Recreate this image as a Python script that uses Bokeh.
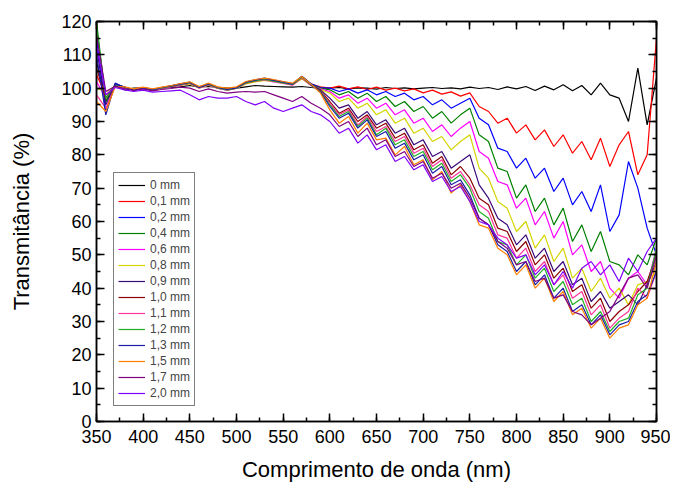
from bokeh.plotting import figure
from bokeh.models import (LinearAxis, Range1d, Legend, LegendItem,
                          CustomJSTickFormatter, SingleIntervalTicker)
from bokeh.embed import file_html
from bokeh.resources import INLINE

# wavelength grid (nm)
wavelength = list(range(350, 951, 10))

labels = ["0 mm", "0,1 mm", "0,2 mm", "0,4 mm", "0,6 mm", "0,8 mm", "0,9 mm",
          "1,0 mm", "1,1 mm", "1,2 mm", "1,3 mm", "1,5 mm", "1,7 mm", "2,0 mm"]

colors = ["#000000", "#ff0000", "#0000ff", "#008000", "#ff00ff", "#d4d400",
          "#3a0a78", "#8b0000", "#ff3399", "#22b022", "#1c1ca8", "#ff8000",
          "#800080", "#8000ff"]

t_0mm = [108, 96, 101, 99.5, 100, 100, 99.8, 100, 100.2, 100.4,
         100.8, 100.3, 100.5, 100.2, 100, 100, 100.4, 100.8, 100.6, 100.5,
         100.4, 100.3, 100.5, 100.2, 100, 100, 100.2, 99.8, 100.1, 100,
         99.7, 100.2, 99.9, 100.1, 99.8, 100, 100.2, 99.9, 100.1, 99.8,
         100.3, 99.9, 100.2, 99.6, 100.4, 99.8, 100.5, 99.3, 100.6, 99.5,
         101, 99.2, 100.8, 98, 101.5, 98, 97, 90, 106, 89,
         103]
t_01mm = [104, 98, 100.5, 100, 99.8, 100.2, 99.6, 100, 100.6, 101.2,
          101.6, 100.4, 101.2, 100.3, 99.8, 100.2, 101.6, 102.2, 102.6, 102.3,
          101.8, 101.3, 102.8, 101.2, 100.4, 100, 100.6, 99.8, 100.4, 99.6,
          100.3, 99.4, 100, 99.2, 99.8, 98.6, 99.4, 98.2, 98.9, 97.6,
          98.6, 94.5, 93, 89.5, 91, 86.5, 89, 84.5, 87.5, 82.5,
          86, 80.5, 84, 78.5, 85, 76.5, 83, 87, 74, 80,
          115]
t_02mm = [115, 93, 101.5, 100.2, 99.3, 100.1, 99.4, 100.2, 100.7, 101.3,
          101.8, 100.2, 101.4, 100.1, 99.6, 100.1, 101.8, 102.5, 103, 102.4,
          101.9, 101.2, 103.5, 101.3, 100.2, 100, 99, 99.8, 98.5, 99.5,
          98, 99, 97.5, 98.5, 96.5, 97.5, 95, 96.5, 94, 95.5,
          97, 91, 89, 82, 81, 76, 79, 73, 76, 69,
          73, 65, 69, 63, 71, 57, 62, 78, 70, 58,
          50]
t_04mm = [120, 96, 100.8, 100.1, 99.5, 99.9, 99.5, 100.1, 100.5, 101.1,
          101.5, 100.1, 101.1, 100, 99.4, 100, 101.5, 102.1, 102.6, 102.1,
          101.6, 101.1, 103.2, 101, 100, 99.5, 98, 99, 97, 98.5,
          96, 97.5, 94.5, 96, 93, 94.5, 91, 93, 89.5, 92,
          94, 86, 84, 76, 75, 67, 71, 63, 67, 59,
          64, 54, 59, 51, 57, 48, 47, 44, 50, 47,
          55]
t_06mm = [102, 97, 100.6, 99.9, 99.6, 100.1, 99.7, 100, 100.4, 101,
          101.4, 100, 101, 99.9, 99.4, 99.9, 101.4, 102, 102.4, 101.9,
          101.4, 100.9, 103, 100.8, 99.8, 99, 97, 98, 95.5, 97,
          94, 95.5, 92, 93.5, 89.5, 91, 87, 89, 85.5, 88,
          90, 81, 79, 72, 71, 64, 67, 59, 63, 55,
          60, 50, 53, 45, 48, 40, 37, 43, 45, 41,
          52]
t_08mm = [100, 99, 100.4, 99.8, 99.7, 100, 99.6, 100.1, 100.5, 100.9,
          101.3, 100.1, 100.9, 100, 99.5, 100, 101.3, 101.9, 102.3, 102,
          101.5, 101, 102.8, 100.9, 99.6, 98.5, 96, 97, 94, 95.5,
          92, 93.5, 89.5, 91, 86.5, 88, 84, 85.5, 81.5, 84,
          86, 76, 73, 66, 64, 57, 60, 52, 56, 48,
          52, 43, 46, 39, 43, 37, 40, 35, 41, 42,
          45]
t_09mm = [112, 95, 101.2, 100.3, 99.4, 100, 99.5, 100.2, 100.6, 101.2,
          101.6, 100.3, 101.2, 100.2, 99.6, 100.1, 101.7, 102.3, 102.8, 102.2,
          101.7, 101.2, 103.4, 101, 99.5, 97, 94, 95, 91, 93,
          89, 90.5, 86.5, 88, 83, 84.5, 79.5, 81, 76, 78,
          80, 71, 67, 61, 59, 53, 56, 49, 52, 45,
          48, 41, 43, 36, 39, 34, 36, 38, 35, 41,
          48]
t_10mm = [106, 97, 100.9, 100.1, 99.6, 100.1, 99.6, 100.1, 100.5, 101,
          101.5, 100.2, 101.1, 100.1, 99.6, 100.1, 101.6, 102.2, 102.7, 102.2,
          101.7, 101.1, 103.2, 100.9, 99.2, 96, 92.5, 94, 90, 92,
          88, 89.5, 85, 86.5, 81.5, 83, 77.5, 79.5, 74, 76.5,
          73, 67, 65, 58, 57, 51, 54, 47, 50, 43,
          46, 39, 41, 34, 37, 30, 33, 35, 39, 42,
          50]
t_11mm = [98, 94, 100.7, 100, 99.5, 100, 99.6, 100, 100.5, 101,
          101.5, 100.1, 101, 100, 99.5, 100, 101.5, 102.1, 102.5, 102.1,
          101.6, 101, 103.1, 100.8, 99, 95.5, 92, 93.5, 89, 91.5,
          87, 88.5, 84, 85.5, 80.5, 82, 76.5, 78.5, 73, 75,
          71, 65, 63, 56, 55, 49, 52, 45, 48, 41,
          44, 37, 39, 32, 35, 28, 31, 33, 40, 37,
          45]
t_12mm = [118, 97, 101, 100.2, 99.5, 100, 99.5, 100.1, 100.6, 101.1,
          101.6, 100.2, 101.1, 100.1, 99.5, 100, 101.6, 102.2, 102.6, 102.1,
          101.6, 101.1, 103.3, 100.9, 99, 95, 91.5, 93, 88.5, 91,
          86, 88, 83, 84.5, 79.5, 81, 75.5, 77.5, 72, 74,
          70, 63, 61, 54, 53, 47, 50, 43, 46, 39,
          42, 35, 37, 30, 33, 27, 30, 31, 38, 40,
          52]
t_13mm = [110, 92, 101.3, 100.3, 99.4, 100.1, 99.5, 100.2, 100.7, 101.2,
          101.7, 100.2, 101.3, 100.2, 99.6, 100.1, 101.8, 102.4, 102.9, 102.3,
          101.8, 101.2, 103.6, 101.1, 98.8, 94.5, 91, 92.5, 88, 90.5,
          85.5, 87, 82, 83.5, 78.5, 80, 74.5, 76.5, 71, 72.5,
          68, 61, 59, 53, 51, 45, 48, 41, 44, 37,
          40, 33, 35, 29, 32, 26, 29, 30, 36, 38,
          45]
t_15mm = [96, 93, 100.5, 100.4, 99.8, 100.3, 99.8, 100.3, 100.8, 101.4,
          101.9, 100.5, 101.5, 100.4, 100, 100.4, 102, 102.6, 103, 102.6,
          102, 101.5, 103.5, 101.2, 98.5, 93.5, 89.5, 91.5, 86.5, 89.5,
          84.5, 85, 80, 82.5, 77, 78.5, 72.5, 75, 68.5, 71,
          66, 59, 58, 52, 50, 44, 47, 40, 43, 36,
          39, 32, 34, 28, 31, 25, 28, 29, 35, 37,
          48]
t_17mm = [116, 99, 100.6, 99.8, 99.3, 99.8, 99.2, 99.6, 99.9, 100.3,
          100, 99, 99.8, 99, 98.5, 98.8, 99, 98.8, 99, 98,
          97, 96, 97.5, 95.5, 94, 92, 88.5, 90, 85.5, 88,
          83, 84.5, 79.5, 81, 76.5, 78, 73, 74.5, 70, 71.5,
          67, 61, 59, 54, 52, 47, 48, 42, 43, 37,
          38, 33, 32, 29, 31, 33, 38, 43, 44, 40,
          50]
t_20mm = [113, 98, 100.2, 99.5, 99, 99.4, 98.8, 99, 99.2, 99.4,
          98, 96.5, 97.5, 97, 97, 97.5, 96, 95, 96, 94,
          93, 94, 95, 93, 92, 90, 86.5, 88, 83.5, 86,
          81.5, 83, 78, 79.5, 75.5, 77, 72, 73.5, 69, 70.5,
          66, 60, 59, 55, 53, 49, 50, 44, 47, 41,
          45, 40, 46, 48, 44, 47, 42, 49, 45, 51,
          55]

series = [t_0mm, t_01mm, t_02mm, t_04mm, t_06mm, t_08mm, t_09mm,
          t_10mm, t_11mm, t_12mm, t_13mm, t_15mm, t_17mm, t_20mm]

FONT = "Liberation Sans"

p = figure(frame_width=560, frame_height=400,
           min_border_left=96, min_border_right=14,
           min_border_top=21, min_border_bottom=62,
           x_range=Range1d(350, 950), y_range=Range1d(0, 120),
           output_backend="svg", toolbar_location=None,
           background_fill_color="white", border_fill_color="white")
p.xgrid.visible = False
p.ygrid.visible = False
p.outline_line_color = "black"
p.outline_line_width = 1.5

renderers = []
for ys, c in zip(series, colors):
    r = p.line(wavelength, ys, line_color=c, line_width=1.2)
    renderers.append(r)

xt = SingleIntervalTicker(interval=50, num_minor_ticks=2)
yt = SingleIntervalTicker(interval=10, num_minor_ticks=2)

def style(ax, ticker):
    ax.ticker = ticker
    ax.axis_line_color = "black"
    ax.axis_line_width = 1.5
    ax.major_tick_in = 8
    ax.major_tick_out = 0
    ax.minor_tick_in = 4
    ax.minor_tick_out = 0
    ax.major_tick_line_width = 1.5
    ax.minor_tick_line_width = 1.5
    ax.major_label_text_font = FONT
    ax.major_label_text_font_size = "18px"
    ax.major_label_text_color = "black"
    ax.axis_label_text_font = FONT
    ax.axis_label_text_font_size = "22px"
    ax.axis_label_text_font_style = "normal"
    ax.axis_label_text_color = "black"

xa = p.xaxis[0]
ya = p.yaxis[0]
style(xa, xt)
style(ya, yt)
xa.axis_label = "Comprimento de onda (nm)"
ya.axis_label = "Transmitância (%)"
xa.major_label_standoff = 8
xa.axis_label_standoff = 11
ya.major_label_standoff = 5
ya.axis_label_standoff = 24

empty = CustomJSTickFormatter(code="return ''")
top = LinearAxis()
style(top, SingleIntervalTicker(interval=50, num_minor_ticks=2))
top.formatter = empty
top.major_label_standoff = 0
right = LinearAxis()
style(right, SingleIntervalTicker(interval=10, num_minor_ticks=2))
right.formatter = empty
right.major_label_standoff = 0
p.add_layout(top, "above")
p.add_layout(right, "right")

legend = Legend(items=[LegendItem(label=l, renderers=[r]) for l, r in zip(labels, renderers)],
                location=(17, 15))
legend.label_text_font = FONT
legend.label_text_font_size = "12px"
legend.label_height = 16
legend.glyph_height = 16
legend.glyph_width = 27
legend.label_standoff = 5
legend.spacing = 0
legend.padding = 4
legend.margin = 0
legend.border_line_color = "black"
legend.border_line_width = 1
legend.background_fill_alpha = 1
p.add_layout(legend)

open("out.html", "w").write(file_html(p, INLINE))
